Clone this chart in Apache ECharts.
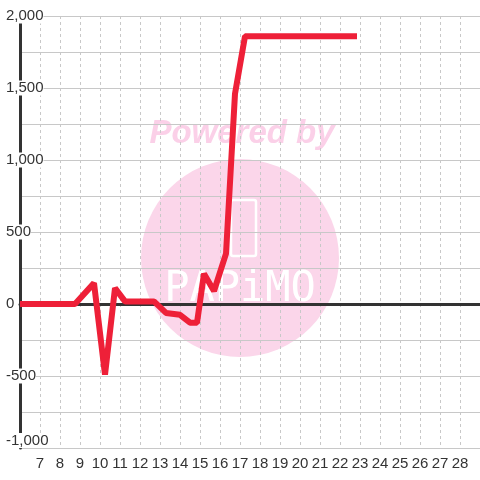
<!DOCTYPE html>
<html lang="en">
<head>
    <meta charset="UTF-8">
    <title>Line chart</title>
    <style>
        body { margin: 0; background: #fff; }
        #chart { width: 480px; height: 480px; }
    </style>
    <script src="https://cdn.jsdelivr.net/npm/echarts/dist/echarts.min.js"></script>
</head>
<body>
<div id="chart"></div>
<script>
    // x positions (day) and values
    var xs = [6, 8.75, 9.7, 10.25, 10.75, 11.25, 12.7, 13.3, 14.0, 14.5, 14.85, 15.2, 15.7, 16.3, 16.75, 17.25, 22.85];
    var ys = [0, 0, 145, -490, 110, 18, 18, -62, -75, -130, -130, 210, 90, 350, 1460, 1860, 1860];

    var xMin = 6, xMax = 29;
    var yMin = -1000, yMax = 2000;

    var labelFont = 'Liberation Sans';
    var chart = echarts.init(document.getElementById('chart'));

    var option = {
        animation: false,
        backgroundColor: '#fff',
        grid: { left: 20, right: 0, top: 16, bottom: 32 },
        graphic: [
            // watermark
            { type: 'circle', z: -1, shape: { cx: 240, cy: 258, r: 99 }, style: { fill: '#fbd6ea' } },
            { type: 'text', z: -1, x: 242, y: 134, style: {
                text: 'Powered by', fill: '#fbd0e8', font: 'italic bold 33px ' + labelFont,
                align: 'center', verticalAlign: 'middle' } },
            { type: 'rect', z: -1, shape: { x: 231, y: 200, width: 25, height: 56, r: 2 },
              style: { fill: 'none', stroke: '#fff', lineWidth: 2.5 } },
            { type: 'text', z: -1, x: 240, y: 290, style: {
                text: 'PAPiMO', fill: '#fff', font: '42px DejaVu Sans Mono',
                align: 'center', verticalAlign: 'middle' } }
        ],
        xAxis: [
            {
                type: 'value', min: xMin, max: xMax, interval: 1,
                axisLine: { show: false, onZero: false },
                axisTick: { show: false },
                axisLabel: {
                    showMinLabel: false, showMaxLabel: false,
                    color: '#333', fontSize: 15, fontFamily: labelFont, margin: 8
                },
                splitLine: { show: true, lineStyle: { color: '#c8c8c8', type: [3, 3], width: 1 } }
            },
            {
                type: 'value', min: xMin, max: xMax, position: 'bottom',
                axisLine: { show: true, onZero: true, lineStyle: { color: '#333', width: 3 } },
                axisTick: { show: false },
                axisLabel: { show: false },
                splitLine: { show: false }
            }
        ],
        yAxis: {
            type: 'value', min: yMin, max: yMax, interval: 250,
            axisLine: { show: true, onZero: false, lineStyle: { color: '#333', width: 3 } },
            axisTick: { show: false },
            axisLabel: {
                formatter: function (v) { return v % 500 === 0 ? v.toLocaleString('en-US') : ''; },
                align: 'left', margin: 14,
                color: '#333', fontSize: 15, fontFamily: labelFont,
                backgroundColor: '#fff',
                verticalAlignMinLabel: 'bottom'
            },
            splitLine: { show: true, lineStyle: { color: '#c8c8c8', width: 1 } }
        },
        series: [{
            type: 'line',
            xAxisIndex: 0,
            data: xs.map(function (x, i) { return [x, ys[i]]; }),
            symbol: 'none',
            lineStyle: { color: '#ee2038', width: 6 }
        }]
    };
    chart.setOption(option);
</script>
</body>
</html>
